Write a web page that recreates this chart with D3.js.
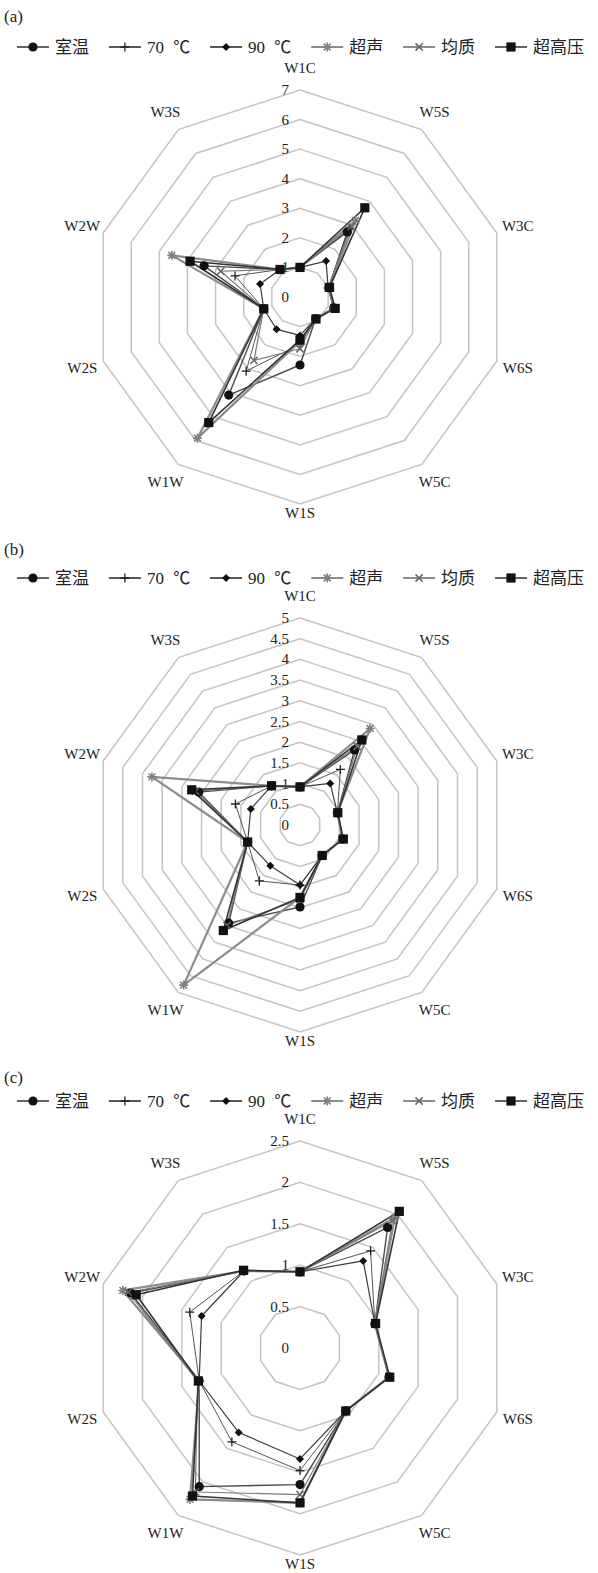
<!DOCTYPE html>
<html>
<head>
<meta charset="utf-8">
<script src="https://cdn.jsdelivr.net/npm/d3@7"></script>
<style>
  body { margin: 0; background: #fff; }
  text { font-family: "Liberation Serif", "DejaVu Serif", serif; fill: #222; }
  .cjk { font-family: "Liberation Serif", "Noto Sans CJK SC", serif; }
</style>
</head>
<body>
<div id="chart"></div>
<script>
// categories, clockwise from the top
const categories = ["W1C", "W5S", "W3C", "W6S", "W5C", "W1S", "W1W", "W2S", "W2W", "W3S"];
const seriesNames = ["室温", "70 ℃", "90 ℃", "超声", "均质", "超高压"];
const panelLabels = ["(a)", "(b)", "(c)"];

// value axis ticks for each panel
const ticksA = [0, 1, 2, 3, 4, 5, 6, 7];
const ticksB = [0, 0.5, 1, 1.5, 2, 2.5, 3, 3.5, 4, 4.5, 5];
const ticksC = [0, 0.5, 1, 1.5, 2, 2.5];

// panel (a) values
const aRoom  = [1.0, 2.72, 1.02, 1.20, 0.90, 2.30, 4.10, 1.29, 3.41, 1.15];
const a70    = [1.0, 2.85, 1.00, 1.20, 0.90, 1.60, 3.10, 1.29, 2.31, 1.15];
const a90    = [1.0, 1.50, 1.00, 1.20, 0.90, 1.30, 1.35, 1.29, 1.42, 1.15];
const aUltra = [1.0, 3.20, 1.02, 1.22, 0.90, 1.50, 5.90, 1.29, 4.56, 1.15];
const aHomo  = [1.0, 2.95, 1.00, 1.20, 0.90, 1.75, 2.65, 1.29, 2.82, 1.15];
const aHpp   = [1.0, 3.73, 1.05, 1.25, 0.92, 1.45, 5.25, 1.29, 3.91, 1.15];

// panel (b)
const bRoom  = [0.92, 2.24, 0.95, 1.08, 0.91, 1.98, 2.93, 1.33, 2.57, 1.17];
const b70    = [0.92, 1.66, 0.95, 1.08, 0.91, 1.45, 1.67, 1.33, 1.64, 1.17];
const b90    = [0.92, 1.24, 0.95, 1.08, 0.91, 1.45, 1.22, 1.33, 1.25, 1.17];
const bUltra = [0.92, 2.88, 0.95, 1.08, 0.91, 1.75, 4.78, 1.33, 3.76, 1.17];
const bHomo  = [0.92, 2.35, 0.95, 1.08, 0.91, 1.80, 3.00, 1.33, 2.65, 1.17];
const bHpp   = [0.92, 2.54, 0.96, 1.10, 0.91, 1.75, 3.15, 1.33, 2.75, 1.17];

// panel (c)
const cRoom  = [0.92, 1.80, 0.95, 1.13, 0.94, 1.65, 2.07, 1.28, 2.15, 1.15];
const c70    = [0.92, 1.45, 0.95, 1.13, 0.94, 1.48, 1.40, 1.28, 1.40, 1.15];
const c90    = [0.92, 1.30, 0.95, 1.13, 0.94, 1.34, 1.26, 1.28, 1.25, 1.15];
const cUltra = [0.92, 1.95, 0.95, 1.13, 0.94, 1.87, 2.26, 1.28, 2.25, 1.15];
const cHomo  = [0.92, 1.90, 0.95, 1.13, 0.94, 1.77, 2.15, 1.30, 2.18, 1.15];
const cHpp   = [0.92, 2.04, 0.96, 1.14, 0.94, 1.87, 2.21, 1.29, 2.08, 1.16];

const width = 598, height = 1573;
const radius = 207;
const cx = 300;

const panels = [
    { label: panelLabels[0], titleY: 16, legendY: 47, cy: 297, ticks: ticksA,
      series: [aRoom, a70, a90, aUltra, aHomo, aHpp] },
    { label: panelLabels[1], titleY: 549, legendY: 578, cy: 825, ticks: ticksB,
      series: [bRoom, b70, b90, bUltra, bHomo, bHpp] },
    { label: panelLabels[2], titleY: 1077, legendY: 1101, cy: 1348, ticks: ticksC,
      series: [cRoom, c70, c90, cUltra, cHomo, cHpp] }
];

// line / marker look for each series, same order as seriesNames
const styles = [
    { stroke: "#4a4a4a", width: 1.4, marker: "circle",   legend: "#222" },
    { stroke: "#555555", width: 1.0, marker: "plus",     legend: "#222" },
    { stroke: "#3c3c3c", width: 1.2, marker: "diamond",  legend: "#222" },
    { stroke: "#8c8c8c", width: 2.2, marker: "asterisk", legend: "#8c8c8c" },
    { stroke: "#7a7a7a", width: 1.2, marker: "x",        legend: "#666" },
    { stroke: "#333333", width: 1.6, marker: "square",   legend: "#222" }
];

const svg = d3.select("#chart").append("svg")
    .attr("width", width)
    .attr("height", height);

// angle scale: each category gets a spoke
const angle = d3.scaleBand()
    .domain(categories)
    .range([0, 2 * Math.PI]);

function drawMarker(g, type, x, y) {
    if (type === "circle") {
        g.append("circle").attr("cx", x).attr("cy", y).attr("r", 4.6).attr("fill", "#111");
    } else if (type === "square") {
        g.append("rect").attr("x", x - 4.6).attr("y", y - 4.6)
            .attr("width", 9.2).attr("height", 9.2).attr("fill", "#111");
    } else if (type === "diamond") {
        g.append("path").attr("transform", `translate(${x},${y})`)
            .attr("d", "M0,-4L4,0L0,4L-4,0Z").attr("fill", "#111");
    } else if (type === "plus") {
        g.append("path").attr("transform", `translate(${x},${y})`)
            .attr("d", "M-4.5,0H4.5M0,-4.5V4.5")
            .attr("stroke", "#222").attr("stroke-width", 1.3).attr("fill", "none");
    } else if (type === "asterisk") {
        g.append("path").attr("transform", `translate(${x},${y})`)
            .attr("d", "M-4.5,0H4.5M0,-4.5V4.5M-3.4,-3.4L3.4,3.4M-3.4,3.4L3.4,-3.4")
            .attr("stroke", "#808080").attr("stroke-width", 1.6).attr("fill", "none");
    } else if (type === "x") {
        g.append("path").attr("transform", `translate(${x},${y})`)
            .attr("d", "M-3.6,-3.6L3.6,3.6M-3.6,3.6L3.6,-3.6")
            .attr("stroke", "#666").attr("stroke-width", 1.5).attr("fill", "none");
    }
}

function drawLegend(y) {
    const lineLen = 32, textGap = 6;
    const items = svg.append("g").attr("class", "legend")
        .selectAll("g")
        .data(seriesNames)
        .join("g");

    items.append("text")
        .attr("class", "cjk")
        .attr("x", lineLen + textGap)
        .attr("y", 0)
        .attr("dominant-baseline", "central")
        .attr("font-size", "17px")
        .attr("word-spacing", "5px")
        .text(d => d);

    // spread the items over the width like the original
    const textWidths = items.select("text").nodes().map(n => n.getComputedTextLength());
    const used = d3.sum(textWidths) + seriesNames.length * (lineLen + textGap);
    const gap = (567 - used) / (seriesNames.length - 1);
    let x = 17;
    items.each(function (d, i) {
        const g = d3.select(this).attr("transform", `translate(${x},${y})`);
        g.insert("line", "text")
            .attr("x1", 0).attr("x2", lineLen)
            .attr("y1", 0).attr("y2", 0)
            .attr("stroke", styles[i].legend)
            .attr("stroke-width", i === 3 ? 2.2 : 1.4);
        drawMarker(g, styles[i].marker, lineLen / 2, 0);
        x += lineLen + textGap + textWidths[i] + gap;
    });
}

function drawRadar(p) {
    const maxVal = d3.max(p.ticks);
    const r = d3.scaleLinear().domain([0, maxVal]).range([0, radius]);

    const g = svg.append("g").attr("transform", `translate(${cx},${p.cy})`);

    // grid rings (decagons)
    g.selectAll(".ring")
        .data(p.ticks.filter(t => t > 0))
        .join("path")
        .attr("class", "ring")
        .attr("d", t => d3.lineRadial()
            .angle(c => angle(c))
            .radius(r(t))
            .curve(d3.curveLinearClosed)(categories))
        .attr("fill", "none")
        .attr("stroke", "#c4c4c4")
        .attr("stroke-width", 1.5);

    // value labels along the top spoke
    g.selectAll(".tick-label")
        .data(p.ticks)
        .join("text")
        .attr("class", "tick-label")
        .attr("x", -11)
        .attr("y", t => -r(t))
        .attr("text-anchor", "end")
        .attr("dominant-baseline", "central")
        .attr("font-size", "15px")
        .text(t => String(t));

    // category labels
    g.selectAll(".cat-label")
        .data(categories)
        .join("text")
        .attr("class", "cat-label")
        .attr("x", c => (radius + 22) * Math.sin(angle(c)))
        .attr("y", c => -(c === "W1S" ? radius + 9 : radius + 22) * Math.cos(angle(c)))
        .attr("text-anchor", "middle")
        .attr("dominant-baseline", "central")
        .attr("font-size", "15px")
        .text(c => c);

    const line = d3.lineRadial()
        .angle(d => angle(d.cat))
        .radius(d => r(d.v))
        .curve(d3.curveLinearClosed);

    const seriesData = p.series.map(vals => vals.map((v, i) => ({ cat: categories[i], v: v })));

    g.selectAll(".series")
        .data(seriesData)
        .join("path")
        .attr("class", "series")
        .attr("d", line)
        .attr("fill", "none")
        .attr("stroke", (d, i) => styles[i].stroke)
        .attr("stroke-width", (d, i) => styles[i].width)
        .attr("stroke-linejoin", "round");

    seriesData.forEach((pts, i) => {
        const mg = g.append("g").attr("class", "markers");
        pts.forEach(d => {
            const a = angle(d.cat);
            drawMarker(mg, styles[i].marker, r(d.v) * Math.sin(a), -r(d.v) * Math.cos(a));
        });
    });

    // panel label
    svg.append("text")
        .attr("x", 4)
        .attr("y", p.titleY)
        .attr("dominant-baseline", "central")
        .attr("font-size", "17px")
        .text(p.label);

    drawLegend(p.legendY);
}

panels.forEach(drawRadar);
</script>
</body>
</html>
